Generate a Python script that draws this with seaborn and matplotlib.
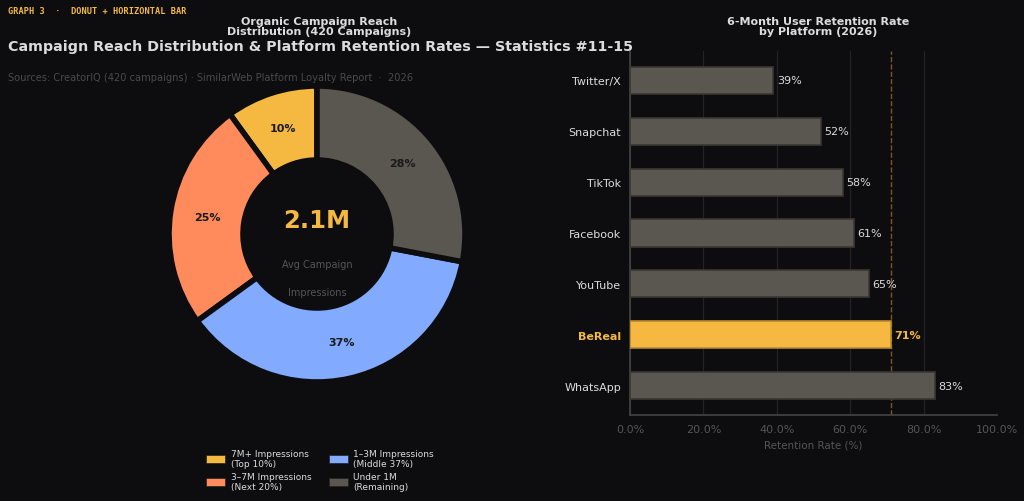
import matplotlib
matplotlib.use('Agg')
import matplotlib.pyplot as plt
import seaborn as sns
import pandas as pd
from matplotlib.patches import Patch
from matplotlib.ticker import FuncFormatter

# donut data
reach_labels = ['7M+ Impressions\n(Top 10%)', '3–7M Impressions\n(Next 20%)',
                '1–3M Impressions\n(Middle 37%)', 'Under 1M\n(Remaining)']
reach_share = [10, 25, 37, 28]
reach_colors = ['#f5b942', '#ff8a5c', '#82aaff', '#5a5750']

# bar data
platforms = ['Twitter/X', 'Snapchat', 'TikTok', 'Facebook', 'YouTube', 'BeReal', 'WhatsApp']
retention = [39, 52, 58, 61, 65, 71, 83]
highlight = 'BeReal'

BG = '#0d0d0f'
TXT = '#dcdcdc'
DIM = '#555555'
YEL = '#f5b942'
GRAY_BAR = '#5a5750'

sns.set_theme(style='dark')
plt.rcParams['font.family'] = ['DejaVu Sans']

fig = plt.figure(figsize=(10.24, 5.02), dpi=100, facecolor=BG)

# ---- donut ----
R = 148
ax1 = fig.add_axes([(317 - R) / 1024, 1 - (235 + R) / 502, 2 * R / 1024, 2 * R / 502])
ax1.set_facecolor(BG)
wedges, texts, autotexts = ax1.pie(
    reach_share, colors=reach_colors, startangle=90, counterclock=True,
    autopct='%d%%', pctdistance=0.75,
    wedgeprops=dict(width=0.5, edgecolor=BG, linewidth=4),
    textprops=dict(color='#1a1a1a', fontsize=8, fontweight='bold'))
ax1.set_xlim(-1, 1)
ax1.set_ylim(-1, 1)
ax1.set_aspect('equal')
ax1.axis('off')
ax1.text(0, 0.095, '2.1M', ha='center', va='center', color=YEL, fontsize=17.5, fontweight='bold')
ax1.text(0, -0.2, 'Avg Campaign', ha='center', va='center', color=DIM, fontsize=7)
ax1.text(0, -0.39, 'Impressions', ha='center', va='center', color=DIM, fontsize=7)

handles = [Patch(facecolor=c, edgecolor='#222222', linewidth=0.5, label=l)
           for c, l in zip(reach_colors, reach_labels)]
fig.legend(handles=handles, loc='center', bbox_to_anchor=(320 / 1024, 1 - 471 / 502),
           ncol=2, frameon=False, fontsize=6.5, labelcolor=TXT,
           handlelength=2.1, handleheight=0.95, columnspacing=1.9, labelspacing=0.45,
           handletextpad=0.6)

# ---- bars ----
ax2 = fig.add_axes([630 / 1024, 1 - 416 / 502, (997 - 630) / 1024, (416 - 52) / 502])
ax2.set_facecolor(BG)
df = pd.DataFrame({'platform': platforms, 'retention': retention})
pal = {p: (YEL if p == highlight else GRAY_BAR) for p in platforms}
sns.barplot(data=df, x='retention', y='platform', hue='platform', palette=pal,
            orient='h', width=0.53, edgecolor='#3a3833', linewidth=1.2, saturation=1,
            legend=False, ax=ax2, zorder=3)
for bar, p, v in zip(ax2.patches, platforms, retention):
    if p == highlight:
        bar.set_edgecolor('#b8892e')
    ax2.text(v + 1, bar.get_y() + bar.get_height() / 2, f'{v}%', va='center', ha='left',
             fontsize=8, color=YEL if p == highlight else TXT,
             fontweight='bold' if p == highlight else 'normal')
ax2.axvline(71, color='#7a5820', linestyle='--', linewidth=1, zorder=2)
ax2.set_xlim(0, 100)
ax2.set_ylim(6.57, -0.57)
ax2.xaxis.set_major_formatter(FuncFormatter(lambda x, _: f'{x:.1f}%'))
ax2.set_xticks([0, 20, 40, 60, 80, 100])
ax2.grid(axis='x', color='#232323', linewidth=0.9, zorder=0)
ax2.grid(axis='y', visible=False)
ax2.set_xlabel('Retention Rate (%)', color=DIM, fontsize=7.5)
ax2.set_ylabel('')
ax2.tick_params(axis='x', colors='#555555', labelsize=8, length=3, labelcolor='#555555')
ax2.tick_params(axis='y', colors='#555555', labelsize=8, length=3, labelcolor=TXT)
for lab in ax2.get_yticklabels():
    if lab.get_text() == highlight:
        lab.set_color(YEL)
        lab.set_fontweight('bold')
for s in ['top', 'right']:
    ax2.spines[s].set_visible(False)
for s in ['left', 'bottom']:
    ax2.spines[s].set_color('#444444')
    ax2.spines[s].set_linewidth(1.2)

# ---- titles ----
fig.text(8 / 1024, 1 - 12 / 502, 'GRAPH 3  ·  DONUT + HORIZONTAL BAR', color=YEL,
         fontsize=6.2, fontweight='bold', family='DejaVu Sans Mono', va='center')
fig.text(8 / 1024, 1 - 47 / 502,
         'Campaign Reach Distribution & Platform Retention Rates — Statistics #11-15',
         color=TXT, fontsize=10.3, fontweight='bold', va='center')
fig.text(8 / 1024, 1 - 78 / 502,
         'Sources: CreatorIQ (420 campaigns) · SimilarWeb Platform Loyalty Report  ·  2026',
         color='#4a4a4a', fontsize=7.15, va='center')
fig.text(319 / 1024, 1 - 27 / 502, 'Organic Campaign Reach\nDistribution (420 Campaigns)',
         color=TXT, fontsize=8.0, fontweight='bold', ha='center', va='center', linespacing=1.0)
fig.text(818 / 1024, 1 - 27 / 502, '6-Month User Retention Rate\nby Platform (2026)',
         color=TXT, fontsize=8.0, fontweight='bold', ha='center', va='center', linespacing=1.0)

fig.savefig('out.png', dpi=100, facecolor=BG)
